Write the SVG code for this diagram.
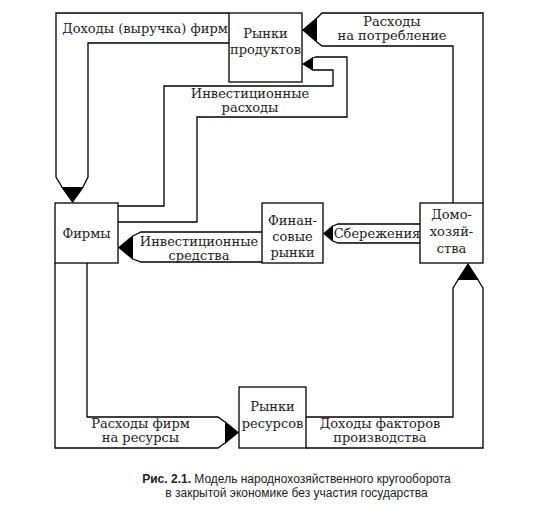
<svg xmlns="http://www.w3.org/2000/svg" width="552" height="506" viewBox="0 0 552 506">
<style>
.box{fill:#fff;stroke:#000;stroke-width:1.3}
.ln{fill:none;stroke:#000;stroke-width:1.3;stroke-linejoin:miter}
.hd{fill:#000;stroke:none}
.t{font-family:"DejaVu Serif","Liberation Serif",serif;font-size:13px;fill:#222;text-anchor:middle}
.cap{font-family:"Liberation Sans",Arial,sans-serif;font-size:12px;fill:#222;text-anchor:middle}
</style>
<rect width="552" height="506" fill="#fff"/>
<g id="connectors">
  <g id="c-revenue">
    <path class="ln" d="M229,13 H56 V177 L62,187"/>
    <path class="ln" d="M229,43 H88 V177 L83,187"/>
    <path class="hd" d="M61,187 L84,187 L72.5,203 Z"/>
  </g>
  <g id="c-consumption">
    <path class="ln" d="M483,203 V13 H322 L317,18"/>
    <path class="ln" d="M453,203 V46 H322 L317,42"/>
    <path class="hd" d="M317,17 L317,43 L302,30 Z"/>
  </g>
  <g id="c-investment">
    <path class="ln" d="M118,206 H164 V86 H333 V70 H313"/>
    <path class="ln" d="M118,222 H197 V117 H347 V57 H316 L313,58"/>
    <path class="hd" d="M313,57 L313,71 L302,64 Z"/>
  </g>
  <g id="c-savings">
    <path class="ln" d="M420,224 H338 L333,226"/>
    <path class="ln" d="M420,243 H338 L333,241"/>
    <path class="hd" d="M333,225 L333,242 L323,233.5 Z"/>
  </g>
  <g id="c-invfunds">
    <path class="ln" d="M262,232 H141 L133,236"/>
    <path class="ln" d="M262,262 H141 L133,259"/>
    <path class="hd" d="M133,235 L133,260 L118,247.5 Z"/>
  </g>
  <g id="c-resexp">
    <path class="ln" d="M55,263 V448 H218 L225,443"/>
    <path class="ln" d="M87,263 V417 H218 L225,422"/>
    <path class="hd" d="M225,421 L225,444 L239,432.5 Z"/>
  </g>
  <g id="c-factorinc">
    <path class="ln" d="M306,448 H483 V288 L478,280"/>
    <path class="ln" d="M306,417 H453 V288 L458,280"/>
    <path class="hd" d="M457,280 L479,280 L468,263 Z"/>
  </g>
</g>
<g id="labels">
  <text class="t" x="145" y="33">Доходы (выручка) фирм</text>
  <text class="t" x="392" y="26">Расходы</text>
  <text class="t" x="392" y="40">на потребление</text>
  <text class="t" x="250" y="98">Инвестиционные</text>
  <text class="t" x="250" y="112">расходы</text>
  <text class="t" x="377" y="238" font-size="12.5">Сбережения</text>
  <text class="t" x="199" y="246">Инвестиционные</text>
  <text class="t" x="199" y="260">средства</text>
  <text class="t" x="140.5" y="428">Расходы фирм</text>
  <text class="t" x="140.5" y="442">на ресурсы</text>
  <text class="t" x="380" y="428">Доходы факторов</text>
  <text class="t" x="380" y="442">производства</text>
</g>
<g id="node-product-markets">
  <rect class="box" x="229" y="13" width="73" height="69"/>
  <text class="t" x="265.5" y="38">Рынки</text>
  <text class="t" x="265.5" y="54">продуктов</text>
</g>
<g id="node-firms">
  <rect class="box" x="55" y="203" width="63" height="60"/>
  <text class="t" x="86.5" y="238">Фирмы</text>
</g>
<g id="node-financial-markets">
  <rect class="box" x="262" y="203" width="61" height="60"/>
  <text class="t" x="292.5" y="225">Финан-</text>
  <text class="t" x="292.5" y="241">совые</text>
  <text class="t" x="292.5" y="257">рынки</text>
</g>
<g id="node-households">
  <rect class="box" x="420" y="203" width="63" height="60"/>
  <text class="t" x="451.5" y="219">Домо-</text>
  <text class="t" x="451.5" y="236">хозяй-</text>
  <text class="t" x="451.5" y="253">ства</text>
</g>
<g id="node-resource-markets">
  <rect class="box" x="239" y="387" width="67" height="61"/>
  <text class="t" x="272.5" y="411">Рынки</text>
  <text class="t" x="272.5" y="428">ресурсов</text>
</g>
<g id="caption">
  <text class="cap" x="296.5" y="483"><tspan font-weight="bold">Рис. 2.1.</tspan> Модель народнохозяйственного кругооборота</text>
  <text class="cap" x="296.5" y="497" font-size="12.5">в закрытой экономике без участия государства</text>
</g>
</svg>
